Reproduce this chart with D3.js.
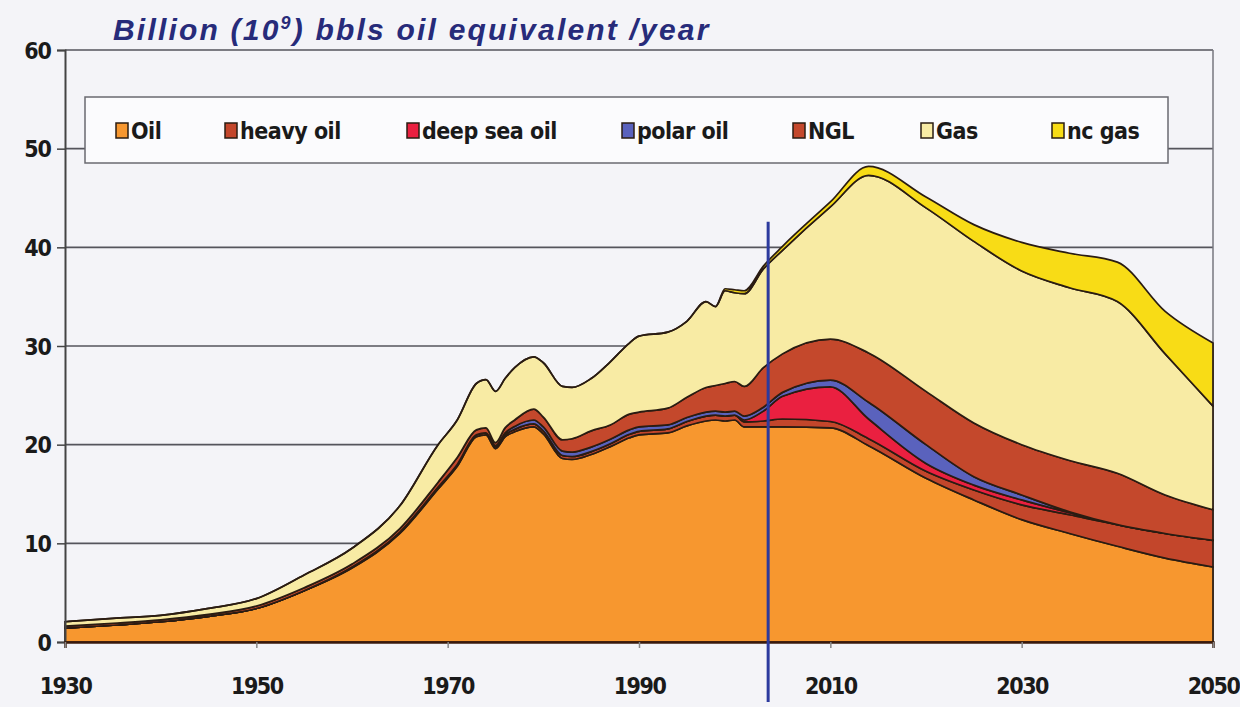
<!DOCTYPE html>
<html>
<head>
<meta charset="utf-8">
<script src="https://cdn.jsdelivr.net/npm/d3@7"></script>
<style>
  body { margin: 0; background: #f4f4f8; }
  svg { display: block; }
  .tick-label { font-family: "DejaVu Sans Condensed", "Liberation Sans Narrow", "DejaVu Sans", sans-serif; font-stretch: condensed; font-weight: bold; font-size: 23px; fill: #1a1a1a; }
</style>
</head>
<body>
<div id="chart"></div>
<script>
// years
var years = [1930, 1935, 1940, 1945, 1950, 1955, 1960, 1965, 1969, 1971, 1973, 1974, 1975, 1976, 1977, 1979, 1980, 1982, 1983, 1985, 1987, 1989, 1990, 1993, 1995, 1997, 1998, 1999, 2000, 2001, 2003, 2005, 2010, 2014, 2020, 2025, 2030, 2035, 2040, 2045, 2050];

// billion bbls oil equivalent per year, one list per source
var oil      = [1.4, 1.7, 2.05, 2.6, 3.4, 5.2, 7.5, 11.0, 15.5, 17.8, 20.8, 21.0, 19.6, 20.8, 21.3, 21.8, 21.1, 18.6, 18.5, 19.0, 19.8, 20.7, 21.0, 21.2, 21.9, 22.4, 22.5, 22.4, 22.5, 21.8, 21.8, 21.8, 21.7, 19.9, 16.6, 14.4, 12.4, 11.0, 9.7, 8.5, 7.6];
var heavyOil = [0, 0, 0, 0, 0, 0, 0.1, 0.15, 0.2, 0.2, 0.2, 0.2, 0.2, 0.2, 0.25, 0.3, 0.3, 0.3, 0.3, 0.3, 0.3, 0.35, 0.35, 0.4, 0.45, 0.5, 0.5, 0.5, 0.5, 0.5, 0.6, 0.8, 0.65, 0.7, 0.7, 1.0, 1.5, 1.9, 2.2, 2.5, 2.7];
var deepSea  = [0, 0, 0, 0, 0, 0, 0, 0, 0, 0, 0, 0, 0, 0, 0, 0, 0, 0, 0, 0, 0, 0, 0, 0, 0, 0, 0, 0, 0, 0.2, 1.0, 2.3, 3.5, 2.0, 0.8, 0.5, 0.5, 0.2, 0, 0, 0];
var polarOil = [0, 0, 0, 0, 0, 0, 0, 0, 0, 0, 0, 0, 0.1, 0.2, 0.3, 0.4, 0.4, 0.45, 0.45, 0.45, 0.45, 0.45, 0.45, 0.4, 0.4, 0.4, 0.4, 0.4, 0.4, 0.4, 0.4, 0.4, 0.7, 1.7, 1.9, 0.85, 0.5, 0.1, 0, 0, 0];
var ngl      = [0.2, 0.2, 0.2, 0.2, 0.25, 0.3, 0.3, 0.35, 0.5, 0.7, 0.5, 0.5, 0.3, 0.5, 0.65, 1.1, 1.0, 1.15, 1.35, 1.65, 1.45, 1.6, 1.5, 1.7, 2.05, 2.5, 2.6, 2.9, 3.0, 3.0, 4.0, 3.9, 4.15, 5.0, 5.4, 5.45, 5.1, 5.2, 5.2, 3.9, 3.1];
var gas      = [0.45, 0.5, 0.45, 0.6, 0.75, 1.3, 1.6, 2.3, 3.8, 3.8, 4.7, 4.9, 5.2, 5.0, 5.3, 5.3, 5.5, 5.4, 5.2, 5.3, 6.4, 7.2, 7.7, 7.7, 7.7, 8.7, 8.0, 9.4, 9.0, 9.4, 10.0, 10.5, 13.4, 18.0, 18.6, 18.4, 17.6, 17.5, 17.4, 14.3, 10.5];
var ncGas    = [0, 0, 0, 0, 0, 0, 0, 0, 0, 0, 0, 0, 0, 0, 0, 0, 0, 0, 0, 0, 0, 0, 0, 0, 0, 0, 0, 0.2, 0.3, 0.3, 0.3, 0.4, 0.5, 0.9, 1.1, 1.7, 2.9, 3.5, 4.0, 4.3, 6.4];

var seriesNames = ["Oil", "heavy oil", "deep sea oil", "polar oil", "NGL", "Gas", "nc gas"];
var seriesColors = ["#f7972f", "#c3462b", "#ea2040", "#5a62bd", "#c4482c", "#f8eba4", "#f8dc16"];
var yTicks = [0, 10, 20, 30, 40, 50, 60];
var xTicks = [1930, 1950, 1970, 1990, 2010, 2030, 2050];
var dividerYear = 2003.5;
var dividerTop = 42.6;

(function() {
  // layout
  var W = 1240, H = 707;
  var plotLeft = 65, plotRight = 1213, plotTop = 50, plotBottom = 642;
  var legendItemX = [116, 225, 407, 622, 793, 921, 1052];

  var svg = d3.select("#chart").append("svg")
    .attr("width", W)
    .attr("height", H);

  var x = d3.scaleLinear().domain([1930, 2050]).range([plotLeft, plotRight]);
  var y = d3.scaleLinear().domain([0, 60]).range([plotBottom, plotTop]);

  // rows for the stack
  var columns = [oil, heavyOil, deepSea, polarOil, ngl, gas, ncGas];
  var rows = years.map(function(yr, i) {
    var r = {year: yr};
    seriesNames.forEach(function(name, k) { r[name] = columns[k][i]; });
    return r;
  });

  var stacked = d3.stack().keys(seriesNames)(rows);

  // gridlines
  svg.append("g").selectAll("line")
    .data(yTicks.slice(1))
    .enter().append("line")
    .attr("x1", plotLeft).attr("x2", plotRight)
    .attr("y1", function(d) { return y(d); })
    .attr("y2", function(d) { return y(d); })
    .attr("stroke", "#55555c")
    .attr("stroke-width", 1.6);

  // right border
  svg.append("line")
    .attr("x1", plotRight).attr("x2", plotRight)
    .attr("y1", plotTop).attr("y2", plotBottom)
    .attr("stroke", "#77777f")
    .attr("stroke-width", 1.5);

  // the areas
  var area = d3.area()
    .curve(d3.curveMonotoneX)
    .x(function(d) { return x(d.data.year); })
    .y0(function(d) { return y(d[0]); })
    .y1(function(d) { return y(d[1]); });

  svg.append("g").selectAll("path")
    .data(stacked)
    .enter().append("path")
    .attr("d", area)
    .attr("fill", function(d, i) { return seriesColors[i]; })
    .attr("stroke", "#2a1c12")
    .attr("stroke-width", 1.7)
    .attr("stroke-linejoin", "round");

  // legend box
  var legend = svg.append("g");
  legend.append("rect")
    .attr("x", 85).attr("y", 97)
    .attr("width", 1083).attr("height", 66)
    .attr("fill", "#fbfbfd")
    .attr("stroke", "#6a6a70")
    .attr("stroke-width", 1.5);

  seriesNames.forEach(function(name, i) {
    legend.append("rect")
      .attr("x", legendItemX[i]).attr("y", 123)
      .attr("width", 12).attr("height", 15)
      .attr("fill", seriesColors[i])
      .attr("stroke", "#2a1c12")
      .attr("stroke-width", 1.5);
    legend.append("text")
      .attr("class", "tick-label")
      .attr("x", legendItemX[i] + 15)
      .attr("y", 139)
      .attr("letter-spacing", -0.5)
      .text(name);
  });

  // axes
  var yAxis = d3.axisLeft(y).tickValues(yTicks).tickSize(8).tickPadding(6);
  var gy = svg.append("g")
    .attr("transform", "translate(" + plotLeft + ",0)")
    .call(yAxis);
  gy.select(".domain").attr("stroke", "#444").attr("stroke-width", 2);
  gy.selectAll(".tick line").attr("stroke", "#444").attr("stroke-width", 1.5);
  gy.selectAll(".tick text").attr("class", "tick-label").attr("dy", "0.35em").attr("letter-spacing", -1);

  var xAxis = d3.axisBottom(x).tickValues(xTicks).tickFormat(d3.format("d")).tickSize(6).tickPadding(30);
  var gx = svg.append("g")
    .attr("transform", "translate(0," + plotBottom + ")")
    .call(xAxis);
  gx.select(".domain").attr("stroke", "#3a1a0c").attr("stroke-width", 2.5);
  gx.selectAll(".tick line").attr("stroke", "#888").attr("stroke-width", 1.5);
  gx.selectAll(".tick text").attr("class", "tick-label").attr("letter-spacing", -1.5);

  // today marker
  svg.append("line")
    .attr("x1", x(dividerYear)).attr("x2", x(dividerYear))
    .attr("y1", y(dividerTop)).attr("y2", 702)
    .attr("stroke", "#2c3a9e")
    .attr("stroke-width", 3);

  // title
  var title = svg.append("text")
    .attr("x", 113).attr("y", 40)
    .attr("font-family", "Liberation Sans, Arial, sans-serif")
    .attr("font-style", "italic")
    .attr("font-weight", "bold")
    .attr("font-size", 30)
    .attr("letter-spacing", 2.2)
    .attr("fill", "#272b7a");
  title.append("tspan").text("Billion (10");
  title.append("tspan").attr("dy", -11).attr("font-size", 18).text("9");
  title.append("tspan").attr("dy", 11).text(") bbls oil equivalent /year");
})();
</script>
</body>
</html>
